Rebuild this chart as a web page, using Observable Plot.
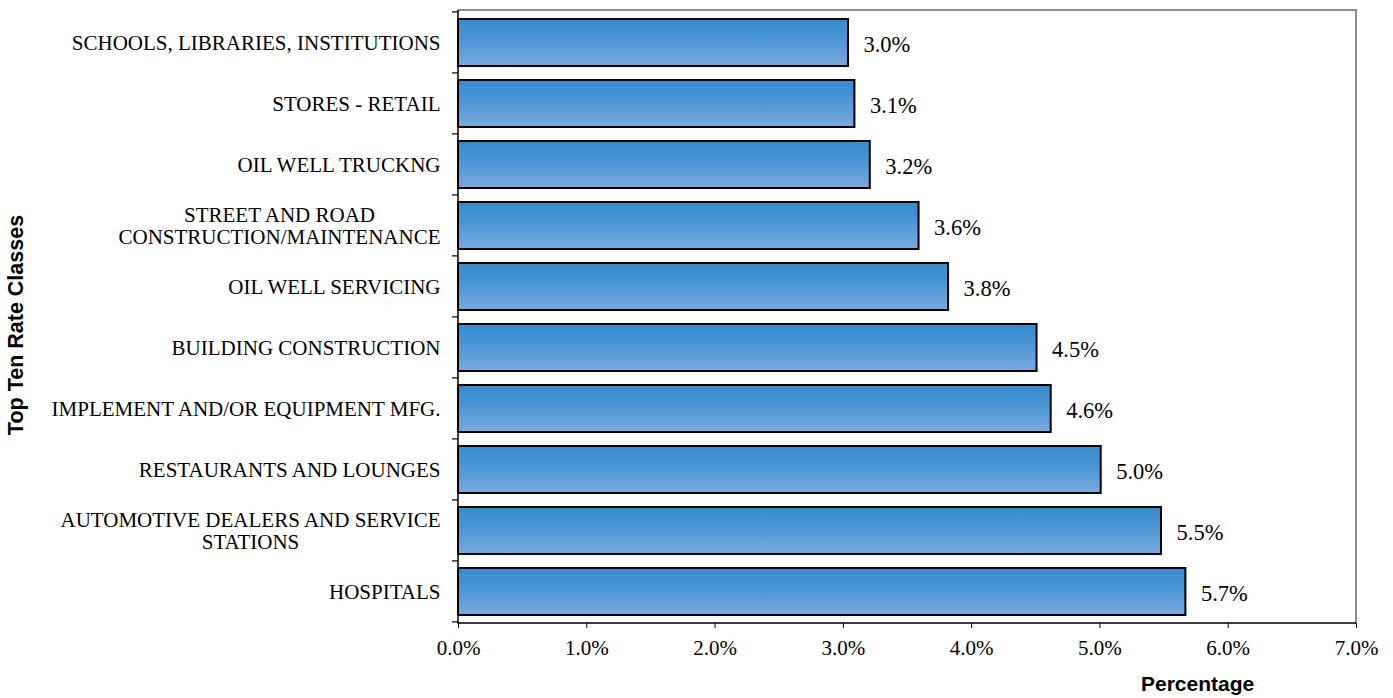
<!DOCTYPE html>
<html>
<head>
<meta charset="utf-8">
<script src="https://cdn.jsdelivr.net/npm/d3@7"></script>
<script src="https://cdn.jsdelivr.net/npm/@observablehq/plot@0.6"></script>
<style>
  html, body { margin: 0; padding: 0; background: #fff; }
  #chart svg { display: block; }
  #xtitle { height: 28px; line-height: 28px; font-family: "Liberation Sans", Arial, sans-serif; font-weight: bold; font-size: 21px; padding-left: 1141px; color: #000; }
</style>
</head>
<body>
<div id="chart"></div>
<div id="xtitle">Percentage</div>
<script>
const categories = [
  "SCHOOLS, LIBRARIES, INSTITUTIONS",
  "STORES - RETAIL",
  "OIL WELL TRUCKNG",
  "STREET AND ROAD\nCONSTRUCTION/MAINTENANCE",
  "OIL WELL SERVICING",
  "BUILDING CONSTRUCTION",
  "IMPLEMENT AND/OR EQUIPMENT MFG.",
  "RESTAURANTS AND LOUNGES",
  "AUTOMOTIVE DEALERS AND SERVICE\nSTATIONS",
  "HOSPITALS"
];
const values = [3.04, 3.09, 3.21, 3.59, 3.82, 4.51, 4.62, 5.01, 5.48, 5.67];
const xTicks = [0, 1, 2, 3, 4, 5, 6, 7];

const data = categories.map((c, i) => ({category: c, value: values[i]}));
const serif = "'Liberation Serif', 'Times New Roman', serif";
const pInner = 0.233;

const gradient = () => {
  const defs = d3.create("svg:defs");
  const g = defs.append("linearGradient").attr("id", "barGrad").attr("x1", 0).attr("y1", 0).attr("x2", 0).attr("y2", 1);
  g.append("stop").attr("offset", "0%").attr("stop-color", "#368cce");
  g.append("stop").attr("offset", "35%").attr("stop-color", "#4593d3");
  g.append("stop").attr("offset", "100%").attr("stop-color", "#7aaade");
  return defs.node();
};

// y-axis tick marks at band boundaries + axis lines, from the plot's scales
const axisLines = (index, scales, values_, dims) => {
  const g = d3.create("svg:g");
  const ys = categories.map(c => scales.y(c));
  const step = ys[1] - ys[0];
  const bounds = ys.map(y => y - step * pInner / 2);
  bounds.push(bounds[bounds.length - 1] + step);
  const x0 = scales.x(0);
  const top = dims.marginTop, bottom = dims.height - dims.marginBottom;
  const right = dims.width - dims.marginRight;
  g.append("path").attr("d", `M${x0},${top}H${right}V${bottom}`).attr("fill", "none").attr("stroke", "#8c8c8c").attr("stroke-width", 2);
  g.append("path").attr("d", `M${x0},${top}V${bottom}H${right}`).attr("fill", "none").attr("stroke", "#000").attr("stroke-width", 1.5);
  for (const b of bounds) {
    g.append("line").attr("x1", x0 - 6).attr("x2", x0).attr("y1", b).attr("y2", b).attr("stroke", "#000").attr("stroke-width", 1.2);
  }
  return g.node();
};

const plot = Plot.plot({
  width: 1393,
  height: 670,
  marginLeft: 458,
  marginRight: 37,
  marginTop: 10,
  marginBottom: 47,
  style: {fontFamily: serif, color: "#000", background: "#fff"},
  x: {domain: [0, 7]},
  y: {domain: categories, paddingInner: pInner, paddingOuter: pInner / 2},
  marks: [
    gradient,
    Plot.barX(data, {x: "value", y: "category", fill: "url(#barGrad)", stroke: "#000", strokeWidth: 2}),
    Plot.text(data, {x: "value", y: "category", text: d => d.value.toFixed(1) + "%", textAnchor: "start", dx: 15, dy: 2, fontSize: 22.5, fontFamily: serif, fill: "#000"}),
    axisLines,
    Plot.axisX({ticks: xTicks, tickFormat: d => d.toFixed(1) + "%", tickSize: 5, tickPadding: 12, fontSize: 21, fontFamily: serif, label: null, stroke: "#000"}),
    Plot.axisY({tickSize: 0, tickPadding: 18, fontSize: 21, fontFamily: serif, lineHeight: 1.05, label: "Top Ten Rate Classes", labelAnchor: "center", labelOffset: 452, labelArrow: "none"})
  ]
});
document.getElementById("chart").appendChild(plot);

d3.select(plot).selectAll('g[aria-label="y-axis label"] text')
  .style("font-family", "'Liberation Sans', Arial, sans-serif")
  .style("font-weight", "bold")
  .style("font-size", "21.5px");
d3.select(plot).selectAll('g[aria-label="y-axis label"]').attr("transform", function() {
  return (d3.select(this).attr("transform") || "") + " translate(1,8)";
});
d3.select(plot).selectAll('g[aria-label="y-axis tick label"] text').each(function() {
  const t = d3.select(this);
  if (t.selectAll("tspan").size() > 1) {
    const w = this.getBBox().width;
    const tr = t.attr("transform") || "";
    t.attr("text-anchor", "middle").attr("transform", tr + ` translate(${-w / 2},0)`);
  }
});
</script>
</body>
</html>
